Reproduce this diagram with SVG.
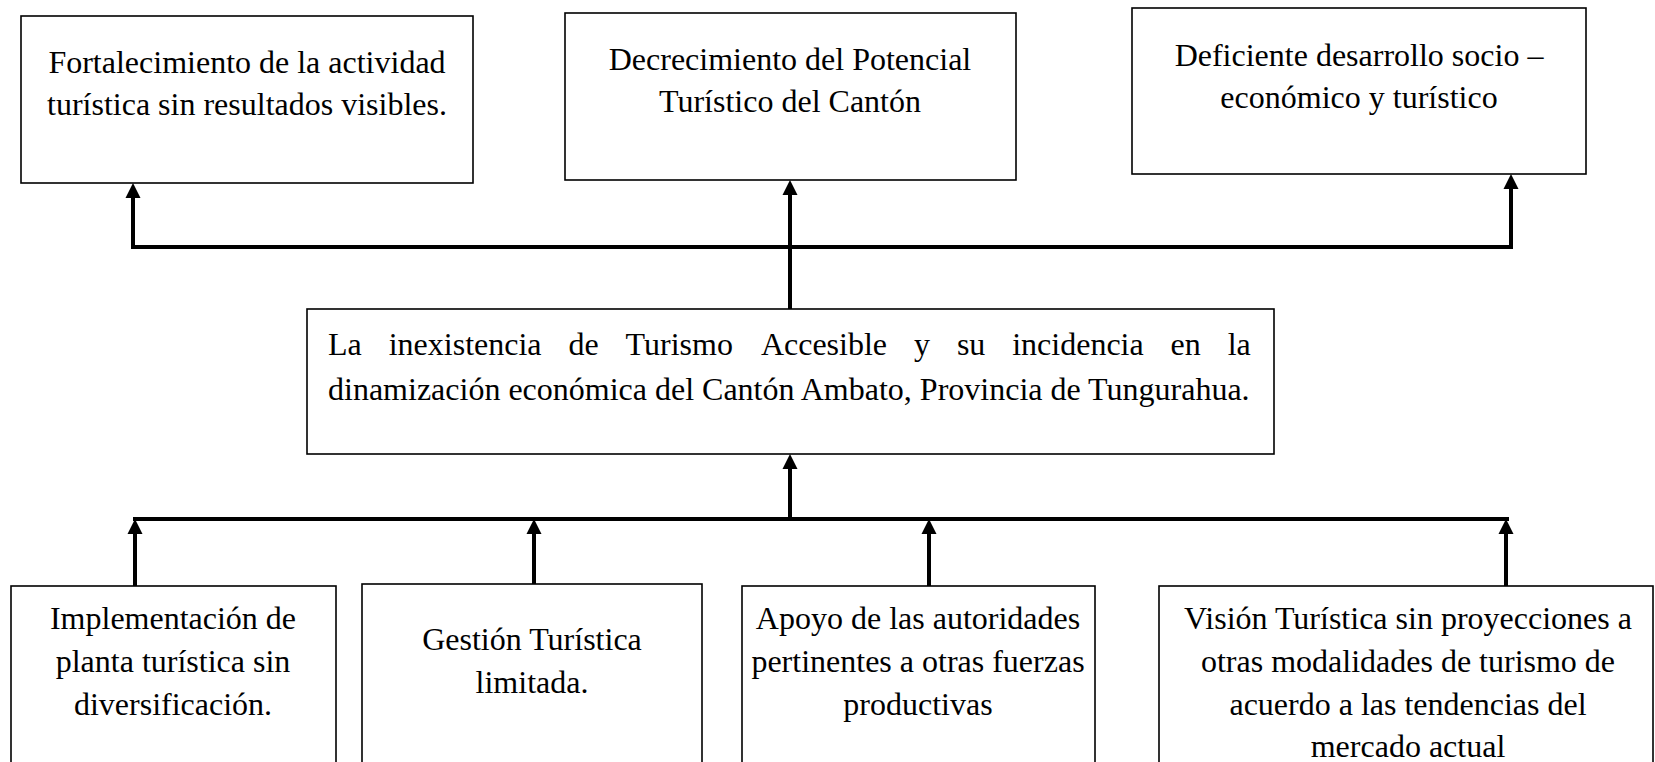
<svg xmlns="http://www.w3.org/2000/svg" width="1655" height="762" viewBox="0 0 1655 762">
<defs>
<style>
.box{fill:#fff;stroke:#000;stroke-width:1.6}
.t{font-family:"Liberation Serif","Times New Roman",serif;font-size:32px;fill:#000}
.c{text-anchor:middle}
.ln{fill:none;stroke:#000;stroke-width:4}
</style>
<marker id="ah" markerUnits="userSpaceOnUse" markerWidth="16" markerHeight="16" viewBox="0 0 16 16" refX="5" refY="8" orient="auto">
<path d="M1,0.5 L16,8 L1,15.5 z" fill="#000"/>
</marker>
</defs>
<rect width="1655" height="762" fill="#fff"/>

<g id="connectors">
<polyline class="ln" points="133,247 1511,247"/>
<line class="ln" x1="133" y1="249" x2="133" y2="194" marker-end="url(#ah)"/>
<line class="ln" x1="790" y1="309" x2="790" y2="191" marker-end="url(#ah)"/>
<line class="ln" x1="1511" y1="249" x2="1511" y2="185" marker-end="url(#ah)"/>
<line class="ln" x1="790" y1="519" x2="790" y2="465" marker-end="url(#ah)"/>
<polyline class="ln" points="133,519 1509,519"/>
<line class="ln" x1="135" y1="586" x2="135" y2="530" marker-end="url(#ah)"/>
<line class="ln" x1="534" y1="584" x2="534" y2="530" marker-end="url(#ah)"/>
<line class="ln" x1="929" y1="586" x2="929" y2="530" marker-end="url(#ah)"/>
<line class="ln" x1="1506" y1="586" x2="1506" y2="530" marker-end="url(#ah)"/>
</g>

<g id="n-efecto1">
<rect class="box" x="21" y="16" width="452" height="167"/>
<text class="t c" x="247" y="73">Fortalecimiento de la actividad</text>
<text class="t c" x="247" y="115">turística sin resultados visibles.</text>
</g>

<g id="n-efecto2">
<rect class="box" x="565" y="13" width="451" height="167"/>
<text class="t c" x="790" y="70">Decrecimiento del Potencial</text>
<text class="t c" x="790" y="112">Turístico del Cantón</text>
</g>

<g id="n-efecto3">
<rect class="box" x="1132" y="8" width="454" height="166"/>
<text class="t c" x="1359" y="66">Deficiente desarrollo socio –</text>
<text class="t c" x="1359" y="108">económico y turístico</text>
</g>

<g id="n-problema">
<rect class="box" x="307" y="309" width="967" height="145"/>
<text class="t" y="355"><tspan x="328">La</tspan><tspan x="388.7">inexistencia</tspan><tspan x="568.5">de</tspan><tspan x="625.6">Turismo</tspan><tspan x="760.9">Accesible</tspan><tspan x="914">y</tspan><tspan x="956.9">su</tspan><tspan x="1012.2">incidencia</tspan><tspan x="1170.6">en</tspan><tspan x="1227.7">la</tspan></text>
<text class="t" x="328" y="400">dinamización económica del Cantón Ambato, Provincia de Tungurahua.</text>
</g>

<g id="n-causa1">
<rect class="box" x="11" y="586" width="325" height="190"/>
<text class="t c" x="173" y="629">Implementación de</text>
<text class="t c" x="173" y="672">planta turística sin</text>
<text class="t c" x="173" y="715">diversificación.</text>
</g>

<g id="n-causa2">
<rect class="box" x="362" y="584" width="340" height="190"/>
<text class="t c" x="532" y="650">Gestión Turística</text>
<text class="t c" x="532" y="693">limitada.</text>
</g>

<g id="n-causa3">
<rect class="box" x="742" y="586" width="353" height="190"/>
<text class="t c" x="918" y="629">Apoyo de las autoridades</text>
<text class="t c" x="918" y="672">pertinentes a otras fuerzas</text>
<text class="t c" x="918" y="715">productivas</text>
</g>

<g id="n-causa4">
<rect class="box" x="1159" y="586" width="494" height="190"/>
<text class="t c" x="1408" y="629">Visión Turística sin proyecciones a</text>
<text class="t c" x="1408" y="672">otras modalidades de turismo de</text>
<text class="t c" x="1408" y="715">acuerdo a las tendencias del</text>
<text class="t c" x="1408" y="757">mercado actual</text>
</g>
</svg>
